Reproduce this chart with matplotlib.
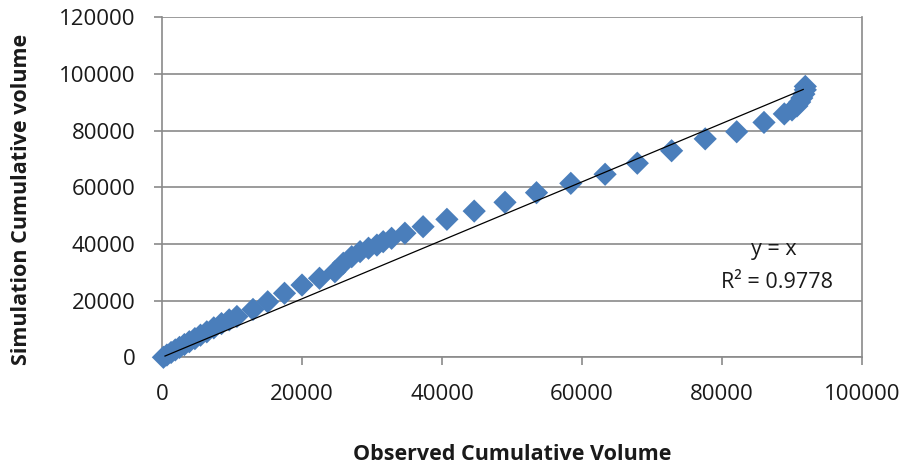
import matplotlib
matplotlib.use("Agg")
import matplotlib.pyplot as plt
import numpy as np

# observed vs simulated cumulative volume
observed = [200, 700, 1300, 1900, 2500, 3200, 3900, 4700, 5500, 6400, 7400, 8500,
            9600, 10700, 13000, 15100, 17500, 20000, 22500, 24700, 25900, 27100,
            28300, 29500, 30700, 31600, 32800, 34700, 37300, 40700, 44600, 49000,
            53500, 58400, 63300, 67900, 72800, 77600, 82100, 86000, 88900, 90000,
            90700, 91100, 91400, 91700, 91900, 91900]
simulated = [0, 800, 1700, 2600, 3500, 4500, 5500, 6600, 7800, 9000, 10400, 11900,
             13200, 14400, 16900, 19600, 22600, 25500, 27900, 30200, 33200, 35500,
             37300, 38500, 39600, 40800, 42000, 43800, 46100, 48700, 51600, 54700,
             58100, 61400, 64600, 68500, 72900, 77100, 79600, 82900, 85900, 87300,
             88700, 90100, 91500, 92900, 94400, 95600]

trend_slope = 1.032
trend_x = [430, 91600]
eq_text = "y = x"
r2_text = "R² = 0.9778"

x_ticks = [0, 20000, 40000, 60000, 80000, 100000]
y_ticks = [0, 20000, 40000, 60000, 80000, 100000, 120000]

plt.rcParams["font.family"] = ["Open Sans", "DejaVu Sans"]
grey = "#8a8a8a"

fig = plt.figure(figsize=(9.04, 4.67), dpi=100)
ax = fig.add_axes([162 / 904, 1 - 357.3 / 467, 700 / 904, 340 / 467])

ax.set_xlim(0, 100000)
ax.set_ylim(0, 120000)
ax.set_xticks(x_ticks)
ax.set_yticks(y_ticks)
ax.set_xticklabels([str(t) for t in x_ticks])
ax.set_yticklabels([str(t) for t in y_ticks])

ax.yaxis.grid(True, color=grey, linewidth=1.2)
ax.set_axisbelow(True)
for side in ["left", "bottom", "right", "top"]:
    ax.spines[side].set_color(grey)
    ax.spines[side].set_linewidth(1.2)
ax.spines["top"].set_visible(False)

ax.tick_params(axis="both", direction="out", length=6, width=1.2, color=grey,
               labelsize=16, labelcolor="#1a1a1a", pad=13)

ax.scatter(observed, simulated, marker="D", s=140, color="#4a7ebb",
           edgecolors="none", zorder=3, clip_on=False)

tx = np.array(trend_x)
ax.plot(tx, trend_slope * tx, color="black", linewidth=0.9, zorder=4)

ax.text(87400, 37900, eq_text, fontsize=15.5, color="#1a1a1a", ha="center", va="center")
ax.text(87900, 26500, r2_text, fontsize=15.5, color="#1a1a1a", ha="center", va="center")

fig.text(512 / 904, 1 - 455 / 467, "Observed Cumulative Volume", fontsize=15.5,
         fontweight="bold", ha="center", va="center", color="#1a1a1a")
fig.text(22 / 904, 1 - 199 / 467, "Simulation Cumulative volume", fontsize=15.5,
         fontweight="bold", ha="center", va="center", rotation=90, color="#1a1a1a")

plt.savefig("out.png", dpi=100, facecolor="white")
plt.close()
